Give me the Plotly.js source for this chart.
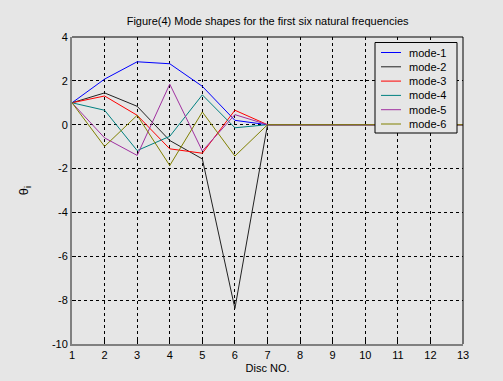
<!DOCTYPE html>
<html>
<head>
<meta charset="utf-8">
<script src="https://cdn.plot.ly/plotly-3.0.1.min.js"></script>
<style>html,body{margin:0;padding:0;background:#e6e6e6;}#chart{width:503px;height:381px;}</style>
</head>
<body>
<div id="chart"></div>
<script>
const discNo = [1,2,3,4,5,6,7,8,9,10,11,12,13];
const mode1 = [1, 2.08, 2.87, 2.78, 1.75, 0.2, 0, 0, 0, 0, 0, 0, 0];
const mode2 = [1, 1.45, 0.84, -0.72, -1.56, -8.38, 0, 0, 0, 0, 0, 0, 0];
const mode3 = [1, 1.31, 0.43, -1.1, -1.3, 0.66, 0, 0, 0, 0, 0, 0, 0];
const mode4 = [1, 0.66, -1.18, -0.53, 1.36, -0.14, 0, 0, 0, 0, 0, 0, 0];
const mode5 = [1, -0.6, -1.4, 1.85, -1.2, 0.46, 0, 0, 0, 0, 0, 0, 0];
const mode6 = [1, -0.99, 0.43, -1.86, 0.58, -1.43, 0, 0, 0, 0, 0, 0, 0];
const modeNames = ['mode-1','mode-2','mode-3','mode-4','mode-5','mode-6'];
const modeData = [mode1, mode2, mode3, mode4, mode5, mode6];
const colors = ['#0000ff', '#222222', '#ff0000', '#008080', '#a030a0', '#808000'];
const xTicks = [1,2,3,4,5,6,7,8,9,10,11,12,13];
const yTicks = [-10,-8,-6,-4,-2,0,2,4];

const traces = modeData.map((d, i) => ({
  x: discNo, y: d, name: modeNames[i], type: 'scatter', mode: 'lines',
  line: {color: colors[i], width: 1}, showlegend: false
}));

// plot-area geometry (pixels) for placing the hand-drawn legend box
const W = 503, H = 381, mL = 72, mR = 40, mT = 37, mB = 37;
const pw = W - mL - mR, ph = H - mT - mB;
const px2x = p => (p - mL) / pw;
const px2y = p => (H - mB - p) / ph;

const font = {family: 'Arial, "Liberation Sans", sans-serif', size: 11, color: '#000'};
const axisCommon = {
  showgrid: true, gridcolor: '#000', gridwidth: 1, griddash: '3px,3px',
  zeroline: false, showline: true, linecolor: '#808080', linewidth: 2,
  ticks: 'inside', ticklen: 4, tickcolor: '#000', mirror: false,
  tickfont: font
};

const shapes = [
  {type: 'line', xref: 'paper', yref: 'paper', x0: 0, x1: 1, y0: 1, y1: 1, line: {color: '#000', width: 1}},
  {type: 'line', xref: 'paper', yref: 'paper', x0: 1, x1: 1, y0: 0, y1: 1, line: {color: '#000', width: 1}},
  {type: 'rect', xref: 'paper', yref: 'paper', layer: 'above',
   x0: px2x(375), x1: px2x(457), y0: px2y(133), y1: px2y(42.5),
   fillcolor: '#e6e6e6', line: {color: '#000', width: 1}}
];
const annotations = [];
modeNames.forEach((name, i) => {
  const cy = 52.5 + i * 14.3;
  shapes.push({type: 'line', xref: 'paper', yref: 'paper', layer: 'above',
    x0: px2x(381), x1: px2x(401), y0: px2y(cy), y1: px2y(cy),
    line: {color: colors[i], width: 1}});
  annotations.push({xref: 'paper', yref: 'paper', x: px2x(407), y: px2y(cy),
    xanchor: 'left', yanchor: 'middle', text: name, showarrow: false, font: font});
});

const layout = {
  width: W, height: H,
  paper_bgcolor: '#e6e6e6', plot_bgcolor: '#e6e6e6',
  margin: {l: mL, r: mR, t: mT, b: mB},
  font: font,
  title: {text: 'Figure(4) Mode shapes for the first six natural frequencies',
          font: {family: font.family, size: 11, color: '#000'},
          x: 0.532, xanchor: 'center', y: 1 - 21/381, yanchor: 'middle', yref: 'container'},
  xaxis: Object.assign({}, axisCommon, {
    range: [1, 13], tickvals: xTicks, ticktext: xTicks.map(String),
    title: {text: 'Disc NO.', font: font, standoff: 4}
  }),
  yaxis: Object.assign({}, axisCommon, {
    range: [-10, 4], tickvals: yTicks, ticktext: yTicks.map(String),
    title: {text: 'θ<sub>i</sub>', font: {family: font.family, size: 13, color: '#000'}, standoff: 20}
  }),
  shapes: shapes,
  annotations: annotations,
  showlegend: false
};
Plotly.newPlot('chart', traces, layout, {displayModeBar: false, staticPlot: true});
</script>
</body>
</html>
